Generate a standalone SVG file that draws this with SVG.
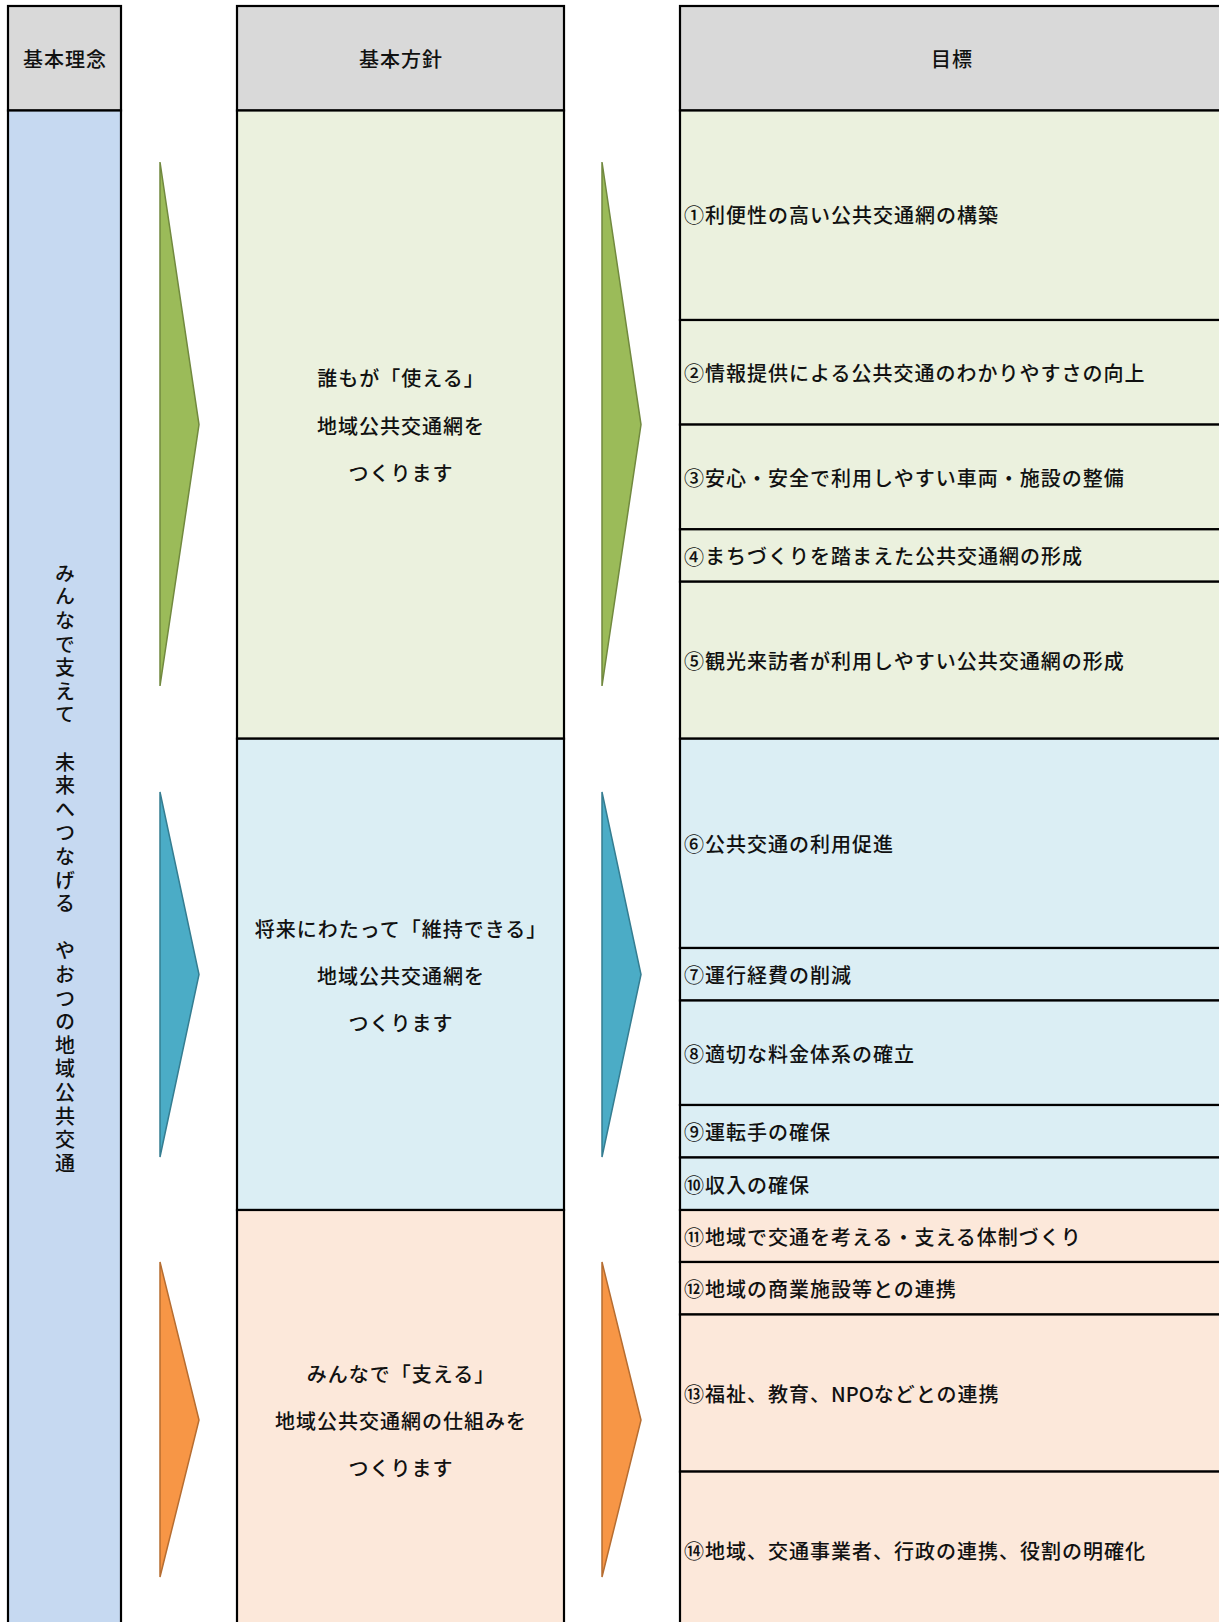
<svg xmlns="http://www.w3.org/2000/svg" width="1219" height="1622" viewBox="0 0 1219 1622">
<style>
  text { font-family: "Noto Sans CJK JP", "Noto Sans", sans-serif; font-size: 20px; fill: #111; letter-spacing: 1px; font-weight: 500; }
  .c { text-anchor: middle; dominant-baseline: central; }
  .l { text-anchor: start; dominant-baseline: central; }
  .n { font-feature-settings: "fwid" 1; }
  .box { stroke: #000; stroke-width: 2.2; }
  .hdr { fill: #D9D9D9; }
  .g { fill: #EBF1DE; }
  .b { fill: #DBEEF4; }
  .o { fill: #FCE8DA; }
  .lc { fill: #C6D9F1; }
  .ag { fill: #9BBB59; stroke: #71893F; stroke-width: 1.5; }
  .ab { fill: #4BACC6; stroke: #357D91; stroke-width: 1.5; }
  .ao { fill: #F79646; stroke: #B66D31; stroke-width: 1.5; }
</style>
<rect x="0" y="0" width="1219" height="1622" fill="#FFFFFF"/>

<g id="col-rinen">
  <rect class="box hdr" x="8" y="6" width="113" height="104.5"/>
  <text class="c" x="65" y="58">基本理念</text>
  <rect class="box lc" x="8" y="110.5" width="113" height="1520"/>
  <text x="65" y="870" writing-mode="vertical-rl" text-anchor="middle" style="letter-spacing:3.6px">みんなで支えて　未来へつなげる　やおつの地域公共交通</text>
</g>

<g id="col-houshin">
  <rect class="box hdr" x="237" y="6" width="327" height="104.5"/>
  <text class="c" x="401" y="58">基本方針</text>
</g>
<g id="houshin-1">
  <rect class="box g" x="237" y="110.5" width="327" height="628.2"/>
  <text class="c" x="401" y="377">誰もが「使える」</text>
  <text class="c" x="401" y="425">地域公共交通網を</text>
  <text class="c" x="401" y="472">つくります</text>
</g>
<g id="houshin-2">
  <rect class="box b" x="237" y="738.7" width="327" height="471.3"/>
  <text class="c" x="401" y="928">将来にわたって「維持できる」</text>
  <text class="c" x="401" y="975">地域公共交通網を</text>
  <text class="c" x="401" y="1022">つくります</text>
</g>
<g id="houshin-3">
  <rect class="box o" x="237" y="1210" width="327" height="420"/>
  <text class="c" x="401" y="1373">みんなで「支える」</text>
  <text class="c" x="401" y="1420">地域公共交通網の仕組みを</text>
  <text class="c" x="401" y="1467">つくります</text>
</g>

<g id="col-mokuhyo">
  <rect class="box hdr" x="680" y="6" width="545" height="104.5"/>
  <text class="c" x="952" y="58">目標</text>
</g>
<g id="goal-01"><rect class="box g" x="680" y="110.5" width="545" height="209.5"/><text class="l" x="684" y="214"><tspan class="n">①</tspan>利便性の高い公共交通網の構築</text></g>
<g id="goal-02"><rect class="box g" x="680" y="320" width="545" height="104.6"/><text class="l" x="684" y="372"><tspan class="n">②</tspan>情報提供による公共交通のわかりやすさの向上</text></g>
<g id="goal-03"><rect class="box g" x="680" y="424.6" width="545" height="104.7"/><text class="l" x="684" y="477"><tspan class="n">③</tspan>安心・安全で利用しやすい車両・施設の整備</text></g>
<g id="goal-04"><rect class="box g" x="680" y="529.3" width="545" height="52.4"/><text class="l" x="684" y="555.5"><tspan class="n">④</tspan>まちづくりを踏まえた公共交通網の形成</text></g>
<g id="goal-05"><rect class="box g" x="680" y="581.7" width="545" height="157"/><text class="l" x="684" y="660"><tspan class="n">⑤</tspan>観光来訪者が利用しやすい公共交通網の形成</text></g>
<g id="goal-06"><rect class="box b" x="680" y="738.7" width="545" height="209.3"/><text class="l" x="684" y="843"><tspan class="n">⑥</tspan>公共交通の利用促進</text></g>
<g id="goal-07"><rect class="box b" x="680" y="948" width="545" height="52.5"/><text class="l" x="684" y="974"><tspan class="n">⑦</tspan>運行経費の削減</text></g>
<g id="goal-08"><rect class="box b" x="680" y="1000.5" width="545" height="104.5"/><text class="l" x="684" y="1053"><tspan class="n">⑧</tspan>適切な料金体系の確立</text></g>
<g id="goal-09"><rect class="box b" x="680" y="1105" width="545" height="52.5"/><text class="l" x="684" y="1131"><tspan class="n">⑨</tspan>運転手の確保</text></g>
<g id="goal-10"><rect class="box b" x="680" y="1157.5" width="545" height="52.5"/><text class="l" x="684" y="1184"><tspan class="n">⑩</tspan>収入の確保</text></g>
<g id="goal-11"><rect class="box o" x="680" y="1210" width="545" height="52"/><text class="l" x="684" y="1236"><tspan class="n">⑪</tspan>地域で交通を考える・支える体制づくり</text></g>
<g id="goal-12"><rect class="box o" x="680" y="1262" width="545" height="52.5"/><text class="l" x="684" y="1288"><tspan class="n">⑫</tspan>地域の商業施設等との連携</text></g>
<g id="goal-13"><rect class="box o" x="680" y="1314.5" width="545" height="157.1"/><text class="l" x="684" y="1393"><tspan class="n">⑬</tspan>福祉、教育、<tspan style="letter-spacing:0px">NPO</tspan>などとの連携</text></g>
<g id="goal-14"><rect class="box o" x="680" y="1471.6" width="545" height="160"/><text class="l" x="684" y="1550"><tspan class="n">⑭</tspan>地域、交通事業者、行政の連携、役割の明確化</text></g>

<g id="connectors">
  <polygon class="ag" points="160,162 199,424.6 160,686"/>
  <polygon class="ag" points="602,162 641,424.6 602,686"/>
  <polygon class="ab" points="160,792 199,974.5 160,1157"/>
  <polygon class="ab" points="602,792 641,974.5 602,1157"/>
  <polygon class="ao" points="160,1262 199,1420 160,1577"/>
  <polygon class="ao" points="602,1262 641,1420 602,1577"/>
</g>
</svg>
